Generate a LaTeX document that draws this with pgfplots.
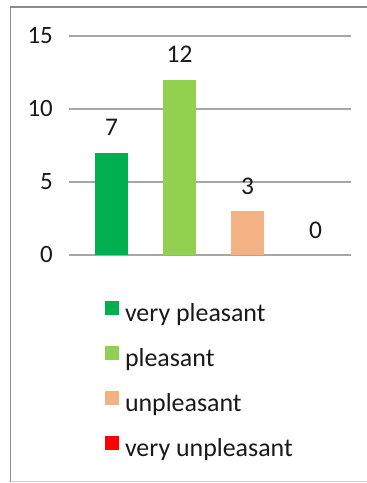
\documentclass[border=0pt]{standalone}
\usepackage{pgfplots}
\pgfplotsset{compat=1.18}
\usepackage{fontspec}
\setmainfont{Carlito}
\definecolor{vp}{HTML}{00B050}
\definecolor{pl}{HTML}{92D050}
\definecolor{up}{HTML}{F4B183}
\definecolor{vu}{HTML}{FF0000}
\definecolor{gridc}{HTML}{A6A6A6}
\definecolor{framec}{HTML}{8C8C8C}
\begin{document}
\begin{tikzpicture}
\useasboundingbox (0,0) rectangle (367bp,483bp);
\fill[white] (0,0) rectangle (367bp,483bp);
\draw[framec, line width=1.2bp] (10.5bp,1.5bp) -- (10.5bp,476bp) -- (367bp,476bp);
\draw[gray!35, line width=1.2bp] (10.5bp,1.5bp) -- (367bp,1.5bp);
\begin{axis}[
  at={(69bp,228bp)}, anchor=south west,
  scale only axis, width=282bp, height=219bp,
  xmin=-0.625, xmax=3.522, ymin=0, ymax=15,
  ytick={0,5,10,15}, xtick=\empty,
  ymajorgrids, grid style={gridc, line width=1.2bp},
  axis x line*=bottom, axis y line*=left,
  x axis line style={gridc, line width=1.2bp, -},
  y axis line style={draw=none},
  major tick length=0pt,
  tick label style={font=\fontsize{25}{29}\selectfont, text=black!90},
  yticklabel style={anchor=east, inner sep=0pt, xshift=-16bp},
  /pgf/number format/assume math mode=true,
  ybar, bar width=33bp, bar shift=0pt,
  nodes near coords,
  every node near coord/.append style={font=\fontsize{25.5}{29}\selectfont, text=black!90, anchor=base, inner sep=0pt, yshift=17bp},
  legend cell align=left,
  legend style={draw=none, fill=none, inner sep=0pt, outer sep=0pt,
    at={(axis description cs:0.1277,-0.210)}, anchor=north west,
    row sep=18bp, column sep=6bp,
    font=\fontsize{26}{30}\selectfont,
    nodes={inner sep=0pt, text height=18bp, text depth=6bp, text=black!90}},
  legend image code/.code={\fill[#1] (0bp,1bp) rectangle (14bp,15bp);},
]
\addplot[fill=vp, draw=none] coordinates {(0,7)};
\addlegendentry{very pleasant}
\addplot[fill=pl, draw=none] coordinates {(1,12)};
\addlegendentry{pleasant}
\addplot[fill=up, draw=none] coordinates {(2,3)};
\addlegendentry{unpleasant}
\addplot[fill=none, draw=none, forget plot] coordinates {(3,0)};
\addlegendimage{fill=vu, draw=none}
\addlegendentry{very unpleasant}
\end{axis}
\end{tikzpicture}
\end{document}
